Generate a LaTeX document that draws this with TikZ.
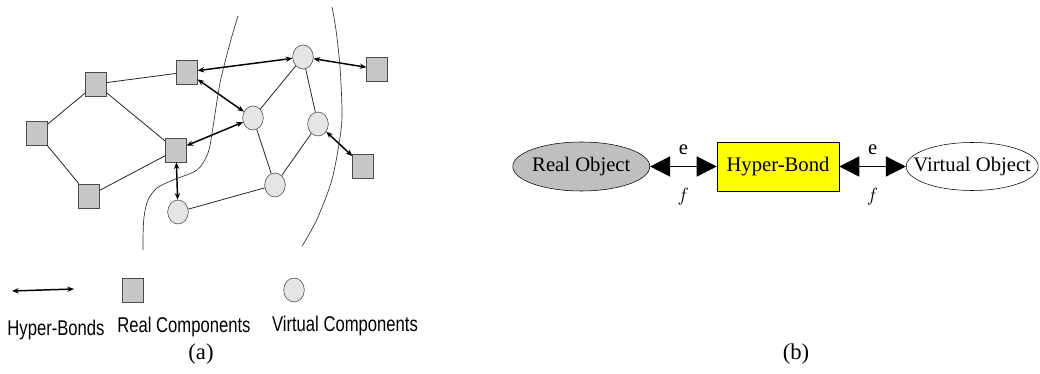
\documentclass[tikz,border=0pt]{standalone}
\usepackage{fontspec}
\setmainfont{Liberation Serif}
\newfontfamily\legendfont[FakeStretch=0.78]{Liberation Sans}
\usepackage{tikz}
\usetikzlibrary{arrows.meta, shapes, positioning, calc}
\definecolor{realgray}{rgb}{0.78,0.78,0.78}
\definecolor{virtgray}{rgb}{0.9,0.9,0.9}
\definecolor{objgray}{rgb}{0.75,0.75,0.75}
\definecolor{bondyellow}{rgb}{1,1,0}

\begin{document}
\begin{tikzpicture}[x=0.75pt, y=-0.75pt,
	realcomp/.style={draw=black!70, fill=realgray, minimum width=15.5pt, minimum height=18pt, inner sep=0pt},
	virtcomp/.style={ellipse, draw=black!75, fill=virtgray, minimum width=15.5pt, minimum height=18pt, inner sep=0pt},
	link/.style={black!85, line width=0.6pt},
	hbond/.style={line width=1.1pt, {Stealth[length=5pt,width=4pt]}-{Stealth[length=5pt,width=4pt]}},
	edge/.style={black!80, line width=0.5pt},
	bigbond/.style={line width=1.1pt, {Triangle[length=15pt,width=15pt]}-{Triangle[length=15pt,width=15pt]}},
	legend/.style={font=\legendfont\fontsize{16}{18}\selectfont, anchor=base},
	caption/.style={font=\fontsize{17}{20}\selectfont, anchor=base}]
	\useasboundingbox (0,0) rectangle (1040,374);

	% (a) components
	\node[realcomp] (r1) at (187,72) {};
	\node[realcomp] (r2) at (96,84) {};
	\node[realcomp] (r3) at (37,133) {};
	\node[realcomp] (r4) at (176,150) {};
	\node[realcomp] (r5) at (89,196) {};
	\node[realcomp] (r6) at (377,69) {};
	\node[realcomp] (r7) at (363,166) {};

	\node[virtcomp] (v1) at (303,57) {};
	\node[virtcomp] (v2) at (253,118) {};
	\node[virtcomp] (v3) at (318,124) {};
	\node[virtcomp] (v4) at (275,185) {};
	\node[virtcomp] (v5) at (178,212) {};

	\draw[link] (r2) -- (r1);
	\draw[link] (r2) -- (r3);
	\draw[link] (r2) -- (r4);
	\draw[link] (r3) -- (r5);
	\draw[link] (r5) -- (r4);
	\draw[link] (v1) -- (v2);
	\draw[link] (v1) -- (v3);
	\draw[link] (v2) -- (v4);
	\draw[link] (v3) -- (v4);
	\draw[link] (v4) -- (v5);

	\draw[hbond] (r1) -- (v1);
	\draw[hbond] (r1) -- (v2);
	\draw[hbond] (r4) -- (v2);
	\draw[hbond] (r4) -- (v5);
	\draw[hbond] (v1) -- (r6);
	\draw[hbond] (v3) -- (r7);

	% boundaries
	\draw[edge] plot[smooth] coordinates {(238,16) (230,43) (220,83) (213,127) (208,153) (197,170) (173,180) (157,188) (148,200) (144,217) (143,238) (143,250)};
	\draw[edge] plot[smooth] coordinates {(332,7) (336,30) (340,67) (342,117) (338,150) (331,183) (318,217) (307,238) (302,246)};

	% legend
	\coordinate (la) at (12,291);
	\coordinate (lb) at (74,289);
	\draw[hbond] (la) -- (lb);
	\node[realcomp] (lr) at (133,290) {};
	\node[virtcomp] (lv) at (294,290) {};
	\node[legend] (lt1) at (56,335) {Hyper-Bonds};
	\node[legend] (lt2) at (184,333) {Real Components};
	\node[legend] (lt3) at (345,331) {Virtual Components};
	\node[caption] (capa) at (201,359) {(a)};

	% (b)
	\node[draw, fill=bondyellow, minimum width=91.5pt, minimum height=36.75pt, inner sep=0pt, font=\fontsize{15.5}{18}\selectfont] (bond) at (778,166.5) {Hyper-Bond};
	\node[ellipse, draw, fill=objgray, minimum width=102.75pt, minimum height=36.75pt, inner sep=0pt, left=50pt of bond, font=\fontsize{15.5}{18}\selectfont] (real) {\makebox[0pt]{Real Object}};
	\node[ellipse, draw, minimum width=99pt, minimum height=36pt, inner sep=0pt, right=50pt of bond, font=\fontsize{15.5}{18}\selectfont] (virt) {\makebox[0pt]{Virtual Object}};

	\draw[bigbond] (real) -- (bond) node[midway, yshift=12.75pt, font=\fontsize{15.5}{18}\selectfont] {e} node[midway, yshift=-22.5pt, font=\fontsize{15.5}{18}\selectfont] {$f$};
	\draw[bigbond] (bond) -- (virt) node[midway, yshift=12.75pt, font=\fontsize{15.5}{18}\selectfont] {e} node[midway, yshift=-22.5pt, font=\fontsize{15.5}{18}\selectfont] {$f$};
	\node[caption] (capb) at (796,359) {(b)};
\end{tikzpicture}
\end{document}
